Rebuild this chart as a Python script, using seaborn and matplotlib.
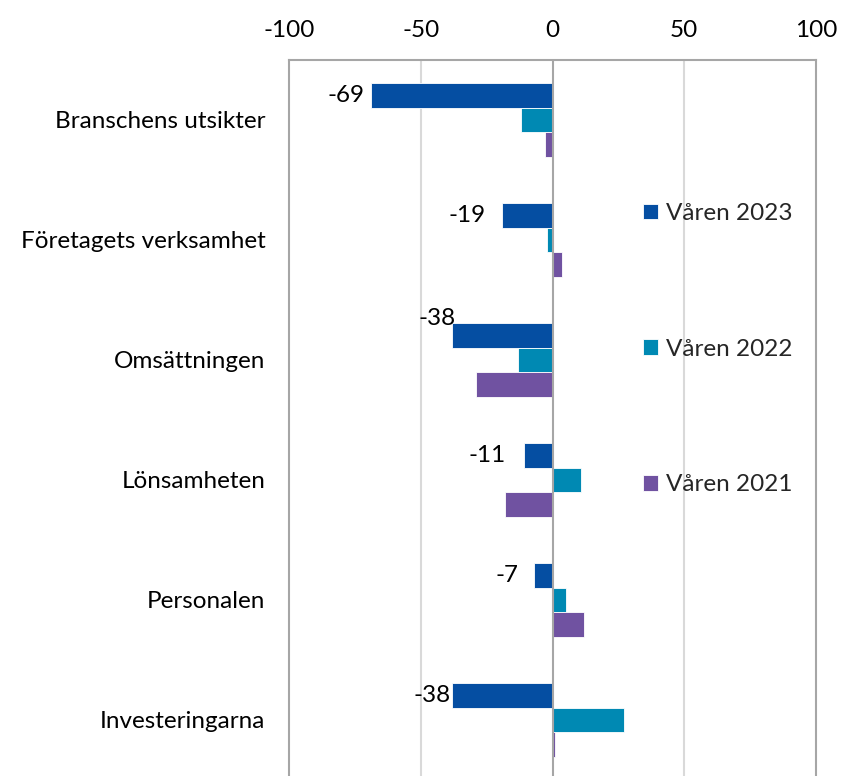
import matplotlib
matplotlib.use("Agg")
import matplotlib.pyplot as plt
import seaborn as sns
import pandas as pd

categories = ["Branschens utsikter", "Företagets verksamhet", "Omsättningen",
              "Lönsamheten", "Personalen", "Investeringarna"]
series = ["Våren 2023", "Våren 2022", "Våren 2021"]
v2023 = [-69, -19, -38, -11, -7, -38]
v2022 = [-12, -2, -13, 11, 5, 27]
v2021 = [-3, 3.5, -29, -18, 12, 1]
xticks = [-100, -50, 0, 50, 100]

colors = ["#054EA2", "#0089B3", "#7052A1"]

rows = []
for s, vals in zip(series, [v2023, v2022, v2021]):
    for c, v in zip(categories, vals):
        rows.append({"cat": c, "serie": s, "val": v})
df = pd.DataFrame(rows)

sns.set_theme(style="white")
plt.rcParams["font.family"] = ["Lato", "DejaVu Sans"]

FS = 17.5
W, H = 841, 776
fig = plt.figure(figsize=(W / 100, H / 100), dpi=100)
ax = fig.add_axes([289 / W, (776 - 780) / H, (816 - 289) / W, 720 / H])

sns.barplot(data=df, y="cat", x="val", hue="serie", order=categories,
            hue_order=series, palette=colors, orient="h", width=0.62,
            ax=ax, edgecolor="white", linewidth=0.6, saturation=1, legend=True)

ax.set_xlim(-100, 100)
ax.set_ylim(5.5, -0.5)
ax.set_xticks(xticks)
ax.set_xticklabels([str(t) for t in xticks])
ax.xaxis.tick_top()
ax.tick_params(axis="x", length=0, pad=14, labelsize=FS, colors="#000000")
ax.tick_params(axis="y", length=0, pad=17, labelsize=FS, colors="#000000")
ax.set_xlabel("")
ax.set_ylabel("")
for x in [-50, 50]:
    ax.axvline(x, color="#D9D9D9", lw=1.5, zorder=0)
ax.axvline(0, color="#A6A6A6", lw=1.5, zorder=3)
for side, sp in ax.spines.items():
    sp.set_color("#A6A6A6")
    sp.set_linewidth(1.5)
ax.spines["bottom"].set_visible(False)

# data labels for 2023 series (offsets in pixels)
label_dx = [-6, -17, 3, -18, -16, -2]
label_dy = [0, 0, 17, 0, 0, 0]
for p, v, dx, dy in zip(ax.containers[0].patches, v2023, label_dx, label_dy):
    yc = p.get_y() + p.get_height() / 2
    ax.annotate(f"{v:g}", xy=(v, yc), xytext=(dx, dy), textcoords="offset pixels",
                ha="right", va="center", fontsize=FS, color="#000000")

handles, labels = ax.get_legend_handles_labels()
ax.legend(handles, labels, loc="upper left",
          bbox_to_anchor=((643 - 289) / (816 - 289), 1 - (203 - 60) / 720),
          frameon=False, fontsize=FS, labelspacing=4.72, handlelength=0.6,
          handleheight=0.6, handletextpad=0.35, borderaxespad=0, borderpad=0)

fig.savefig("out.png", dpi=100)
